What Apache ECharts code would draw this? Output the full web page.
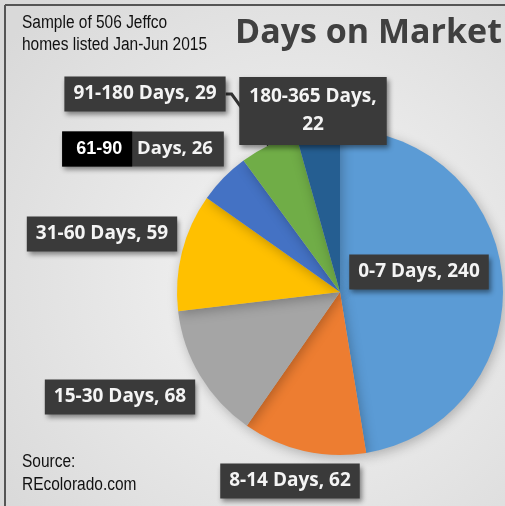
<!DOCTYPE html>
<html>
<head>
<meta charset="utf-8">
<script src="https://cdn.jsdelivr.net/npm/echarts@6/dist/echarts.min.js"></script>
<style>
  html, body { margin: 0; padding: 0; background: #fff; }
  #chart { width: 505px; height: 506px; }
</style>
</head>
<body>
<div id="chart"></div>
<script>
// Days on market, Jeffco listings Jan-Jun 2015
const CATEGORIES = ["0-7 Days", "8-14 Days", "15-30 Days", "31-60 Days", "61-90 Days", "91-180 Days", "180-365 Days"];
const COUNTS = [240, 62, 68, 59, 26, 29, 22];
const COLORS = ["#5B9BD5", "#ED7D31", "#A5A5A5", "#FFC000", "#4472C4", "#70AD47", "#255E91"];

// label centres (callout boxes were dragged by hand in the original)
const LABEL_POS = [[419, 272], [290, 481], [120, 397], [102, 234], [143, 149], [145, 94], [313, 111]];
const REDACTED = 4; // "61-90" sits on a black block

const FONT = "'Open Sans', 'Noto Sans', sans-serif";
const NARROW = "'Liberation Sans', Arial, sans-serif";

const chart = echarts.init(document.getElementById("chart"), null, { renderer: "canvas" });

const data = CATEGORIES.map((name, i) => {
  const item = { name: name, value: COUNTS[i], itemStyle: { color: COLORS[i] } };
  if (i === 5) item.labelLine = { show: true };
  if (i === 6) item.label = { formatter: "{b},\n{c}", lineHeight: 28, padding: [6, 10] };
  if (i === REDACTED) item.label = { padding: [0, 11, 0, 0] };
  return item;
});

// narrow annotation text (Arial Narrow look, squeezed horizontally)
function note(text, x, y, lh) {
  return {
    type: "text", x: x, y: y, scaleX: 0.86,
    style: { text: text, font: "18px " + NARROW, fill: "#111", lineHeight: lh },
  };
}

chart.setOption({
  backgroundColor: {
    type: "radial", x: 0.6, y: 0.55, r: 0.75,
    colorStops: [{ offset: 0, color: "#f6f6f6" }, { offset: 1, color: "#d9d9d9" }],
  },
  title: [
    { text: "Days on Market", left: 235, top: 16, padding: 0,
      textStyle: { fontFamily: FONT, fontSize: 34, fontWeight: "bold", color: "#404040" } },
  ],
  graphic: [
    { type: "line", shape: { x1: 5, y1: 5, x2: 505, y2: 5 }, style: { stroke: "#555", lineWidth: 2 } },
    { type: "line", shape: { x1: 5, y1: 5, x2: 5, y2: 506 }, style: { stroke: "#555", lineWidth: 2 } },
    note("Sample of 506 Jeffco\nhomes listed Jan-Jun 2015", 22, 12, 22),
    note("Source:\nREcolorado.com", 22, 451, 23),
  ],
  series: [{
    type: "pie",
    center: [340, 292],
    radius: 163,
    startAngle: 90,
    clockwise: true,
    avoidLabelOverlap: false,
    data: data,
    itemStyle: { shadowBlur: 12, shadowColor: "rgba(0,0,0,0.25)", shadowOffsetX: 2, shadowOffsetY: 3 },
    label: {
      show: true,
      position: "outside",
      formatter: (p) => {
        if (p.dataIndex === REDACTED) {
          const parts = p.name.split(" ");
          return "{blk|" + parts[0] + "}{txt| " + parts.slice(1).join(" ") + ", " + p.value + "}";
        }
        return p.name + ", " + p.value;
      },
      fontFamily: FONT,
      fontSize: 19,
      fontWeight: "bold",
      color: "#f4f4f4",
      backgroundColor: "#3a3a3a",
      padding: [8, 9],
      shadowBlur: 5,
      shadowColor: "rgba(0,0,0,0.45)",
      shadowOffsetX: 2,
      shadowOffsetY: 3,
      rich: {
        blk: { backgroundColor: "#000", color: "#fff", fontFamily: NARROW,
               fontSize: 18, fontWeight: "bold", padding: [9, 10, 8, 14] },
        txt: { fontFamily: FONT, fontSize: 18.5, fontWeight: "bold", color: "#f4f4f4" },
      },
    },
    labelLine: { show: false, lineStyle: { color: "#333", width: 3 }, length: 6, length2: 6 },
    labelLayout: (p) => {
      const pos = LABEL_POS[p.dataIndex];
      return { x: pos[0], y: pos[1], align: "center", verticalAlign: "middle" };
    },
  }],
});
</script>
</body>
</html>
